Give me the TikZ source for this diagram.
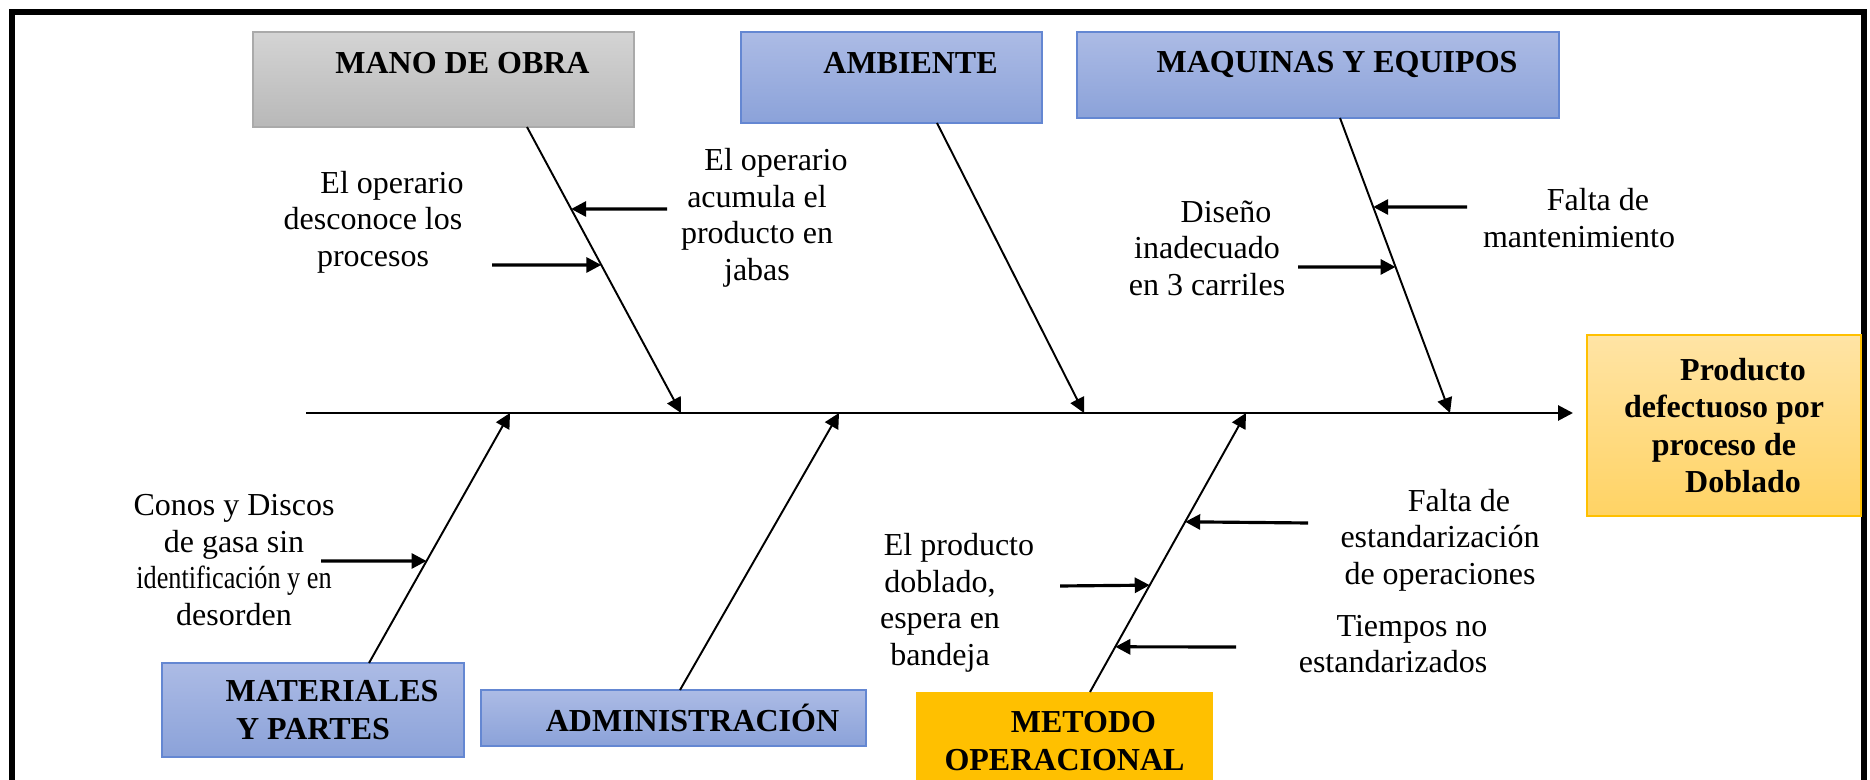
\documentclass[tikz,border=0pt]{standalone}
\usepackage{fontspec}
\setmainfont{Liberation Serif}
\usepackage{graphicx}
\usetikzlibrary{arrows.meta,calc}
\definecolor{bluetop}{RGB}{172,187,229}
\definecolor{bluebot}{RGB}{139,162,217}
\definecolor{blueline}{RGB}{100,135,210}
\definecolor{graytop}{RGB}{212,212,212}
\definecolor{graybot}{RGB}{184,184,184}
\definecolor{grayline}{RGB}{170,170,170}
\definecolor{goldtop}{RGB}{255,228,165}
\definecolor{goldbot}{RGB}{255,211,100}
\definecolor{gold}{RGB}{255,192,0}
\newcommand{\firstpad}{\hspace*{0.38cm}}
\begin{document}
\begin{tikzpicture}[x=0.01cm,y=-0.01cm,
        txt/.style={font=\fontsize{9.1}{10.4}\selectfont,align=center,inner sep=0pt},
        boxlabel/.style={font=\fontsize{9.1}{10.6}\selectfont\bfseries,align=center,inner sep=0pt},
        bluebox/.style={boxlabel,draw=blueline,top color=bluetop,bottom color=bluebot},
        graybox/.style={boxlabel,draw=grayline,top color=graytop,bottom color=graybot},
        goldbox/.style={boxlabel,draw=gold,top color=goldtop,bottom color=goldbot},
        bone/.style={line width=0.55pt,-{Triangle[length=0.15cm,width=0.15cm]}},
        sub/.style={line width=0.9pt,-{Triangle[length=0.15cm,width=0.15cm]}}]
    \useasboundingbox (0,0) rectangle (1870,780);
    \draw[line width=1.5pt] (12,780) -- (12,12) -- (1864,12) -- (1864,780);

    \node[graybox,minimum width=3.81cm,minimum height=0.95cm,text height=0.21cm,text depth=0.33cm] (mano) at (443.5,79.5) {\firstpad MANO DE OBRA};
    \node[bluebox,minimum width=3.01cm,minimum height=0.91cm,text height=0.21cm,text depth=0.29cm] (ambiente) at (891.5,77.5) {\firstpad AMBIENTE};
    \node[bluebox,minimum width=4.82cm,minimum height=0.86cm,text height=0.21cm,text depth=0.25cm] (maquinas) at (1318,75) {\firstpad MAQUINAS Y EQUIPOS};
    \node[bluebox,minimum width=3.02cm,minimum height=0.94cm] (materiales) at (313,710) {\firstpad MATERIALES\\Y PARTES};
    \node[bluebox,minimum width=3.85cm,minimum height=0.56cm,text height=0.26cm,text depth=0cm] (admin) at (673.5,718) {\firstpad ADMINISTRACIÓN};
    \node[boxlabel,fill=gold,minimum width=2.97cm,minimum height=0.98cm] (metodo) at (1064.5,741) {\firstpad METODO\\OPERACIONAL};
    \node[goldbox,minimum width=2.74cm,minimum height=1.81cm] (producto) at (1724,425.5) {\firstpad Producto\\defectuoso por\\proceso de\\\firstpad Doblado};

    \coordinate (tail) at (306,413);
    \coordinate (head) at (1573,413);
    \coordinate (s1) at (510,413);
    \coordinate (s2) at (681,413);
    \coordinate (s3) at (839,413);
    \coordinate (s4) at (1084,413);
    \coordinate (s5) at (1246,413);
    \coordinate (s6) at (1450,413);
    \coordinate (m0) at (527,127);
    \coordinate (a0) at (937,123);
    \coordinate (q0) at (1340,118);
    \coordinate (r0) at (369,663);
    \coordinate (d0) at (680,690);
    \coordinate (e0) at (1090,692);

    \draw[sub,line width=0.8pt] (tail) -- (head);
    \draw[bone] (m0) -- (s2);
    \draw[bone] (a0) -- (s4);
    \draw[bone] (q0) -- (s6);
    \draw[bone] (r0) -- (s1);
    \draw[bone] (d0) -- (s3);
    \draw[bone] (e0) -- (s5);

    \node[txt] (t1) at (373,222) {\firstpad El operario\\desconoce los\\procesos};
    \node[txt] (t2) at (757,218) {\firstpad El operario\\acumula el\\producto en\\jabas};
    \node[txt] (t3) at (1207,248) {\firstpad Diseño\\inadecuado\\en 3 carriles};
    \node[txt] (t4) at (1579,218) {\firstpad Falta de\\mantenimiento};
    \node[txt] (t5) at (234,560) {Conos y Discos\\de gasa sin\\\scalebox{0.82}[1]{identificación y en}\\desorden};
    \node[txt] (t6) at (1440,540) {\firstpad Falta de\\estandarización\\de operaciones};
    \node[txt] (t7) at (940,603) {\firstpad El producto\\doblado,\\espera en\\bandeja};
    \node[txt] (t8) at (1393,644) {\firstpad Tiempos no\\estandarizados};

    \coordinate (c1) at (492,265);
    \coordinate (c2) at (667,209);
    \coordinate (c3) at (1467,207);
    \coordinate (c4) at (1298,267);
    \coordinate (c5) at (321,561);
    \coordinate (c6) at (1308,523);
    \coordinate (c7) at (1060,586);
    \coordinate (c8) at (1236,647);

    \draw[sub] (c1) -- ($(m0)!0.4825!(s2)$);
    \draw[sub] (c2) -- ($(m0)!0.2867!(s2)$);
    \draw[sub] (c3) -- ($(q0)!0.3017!(s6)$);
    \draw[sub] (c4) -- ($(q0)!0.505!(s6)$);
    \draw[sub] (c5) -- ($(r0)!0.408!(s1)$);
    \draw[sub] (c6) -- ($(e0)!0.610!(s5)$);
    \draw[sub] (c7) -- ($(e0)!0.383!(s5)$);
    \draw[sub] (c8) -- ($(e0)!0.162!(s5)$);
\end{tikzpicture}
\end{document}
